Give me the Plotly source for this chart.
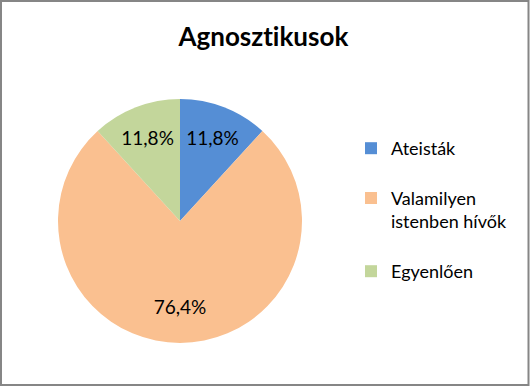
import plotly.graph_objects as go

labels = ["Ateisták", "Valamilyen<br>istenben hívők", "Egyenlően"]
values = [11.8, 76.4, 11.8]
colors = ["#558ED5", "#FAC090", "#C3D69B"]
title_text = "Agnosztikusok"

W, H = 531, 387
cx, cy, r = 180, 221, 122

# legend spacing padding (blank lines) so entries sit like the reference
legend_labels = [labels[0] + "<br>\u00a0", labels[1] + "<br>\u00a0", labels[2]]
label_templates = ["%{percent:.1%}", "\u00a0<br>\u00a0<br>%{percent:.1%}", "%{percent:.1%}"]

fig = go.Figure(go.Pie(
    labels=legend_labels,
    values=values,
    sort=False,
    direction="clockwise",
    rotation=0,
    marker=dict(colors=colors, line=dict(width=0)),
    texttemplate=label_templates,
    textposition="inside",
    insidetextorientation="horizontal",
    textfont=dict(family="Lato", size=19, color="#000000"),
    hoverinfo="label+percent",
    domain=dict(x=[(cx - r) / W, (cx + r) / W], y=[(H - cy - r) / H, (H - cy + r) / H]),
))

fig.update_layout(
    width=W, height=H,
    margin=dict(l=0, r=0, t=0, b=0),
    paper_bgcolor="white",
    separators=", ",
    title=dict(text="<b>" + title_text + "</b>", x=0.496, xanchor="center", y=1 - 37 / H, yanchor="middle",
               yref="container", font=dict(family="Lato", size=26, color="#000000")),
    legend=dict(x=351 / W, y=1 - 130 / H, xanchor="left", yanchor="top", valign="top",
                font=dict(family="Lato", size=18, color="#000000"), itemwidth=30,
                bgcolor="rgba(0,0,0,0)"),
    shapes=[dict(type="rect", xref="paper", yref="paper", x0=1 / W, x1=1 - 2.5 / W, y0=2 / H, y1=1 - 1 / H,
                 line=dict(color="#868686", width=2))],
)

post = (
    "document.body.style.margin='0';document.body.style.overflow='hidden';"
    "var s=document.createElement('style');"
    "s.textContent='text{font-variant-ligatures:none !important;font-feature-settings:\"liga\" 0 !important;}';"
    "document.head.appendChild(s);"
)
fig.write_html("out.html", config={"displayModeBar": False}, post_script=post)
